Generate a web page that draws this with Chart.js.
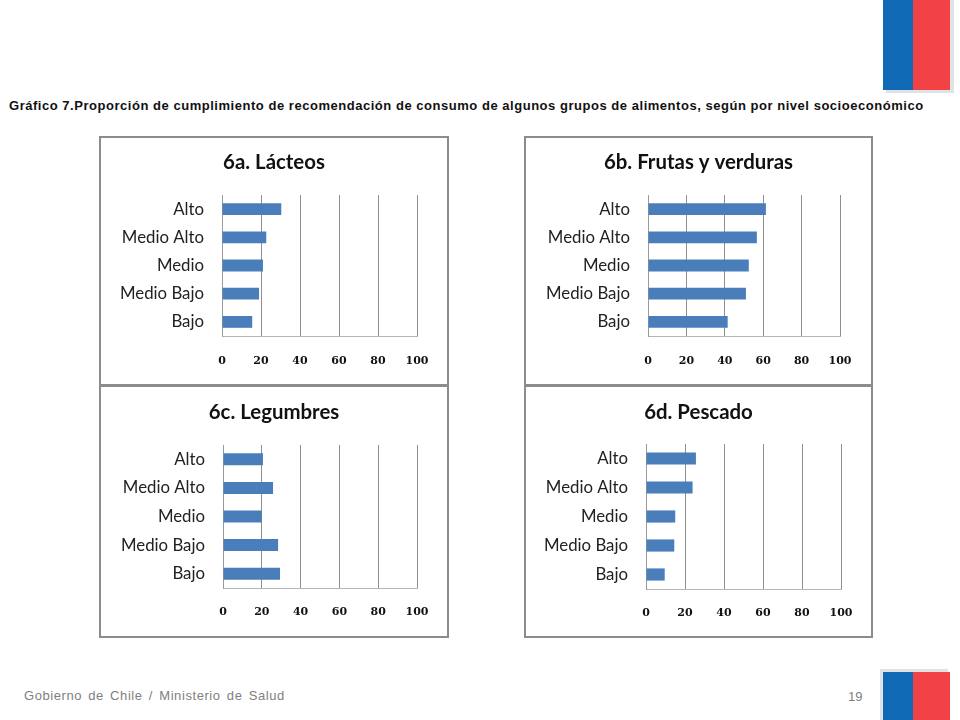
<!DOCTYPE html>
<html lang="es">
<head>
<meta charset="utf-8">
<title>Gráfico 7</title>
<script src="https://cdn.jsdelivr.net/npm/chart.js@4"></script>
<style>
  html, body { margin: 0; padding: 0; background: #fff; width: 960px; height: 720px; overflow: hidden; }
  body { position: relative; font-family: "Liberation Sans", Arial, sans-serif; }
  .abs { position: absolute; }
  .panel { position: absolute; box-sizing: border-box; border: 2px solid #8c8c8c; background: #fff; }
  .panel canvas { position: absolute; left: -2px; top: -2px; }
  #heading { left: 9px; top: 98px; font-size: 13px; letter-spacing: 0.53px; font-weight: bold; color: #111; white-space: nowrap; }
  #footer { left: 24px; top: 688px; font-size: 13px; color: #808080; word-spacing: 2px; letter-spacing: 0.58px; white-space: nowrap; }
  #pageNum { left: 848px; top: 689px; font-size: 13px; color: #808080; }
</style>
</head>
<body>
<!-- banderas -->
<div class="abs" style="left:886px;top:0;width:68px;height:93px;background:#dfe3e6"></div>
<div class="abs" style="left:883px;top:0;width:30px;height:90px;background:#0f69b4"></div>
<div class="abs" style="left:913px;top:0;width:37px;height:90px;background:#f34246"></div>
<div class="abs" style="left:880px;top:669px;width:68px;height:51px;background:#dfe3e6"></div>
<div class="abs" style="left:883px;top:672px;width:30px;height:48px;background:#0f69b4"></div>
<div class="abs" style="left:913px;top:672px;width:37px;height:48px;background:#f34246"></div>

<div id="heading" class="abs">Gráfico 7.Proporción de cumplimiento de recomendación de consumo de algunos grupos de alimentos, según por nivel socioeconómico</div>

<div class="panel" style="left:99px;top:136px;width:350px;height:250px"><canvas id="chartA"></canvas></div>
<div class="panel" style="left:524px;top:136px;width:349px;height:250px"><canvas id="chartB"></canvas></div>
<div class="panel" style="left:99px;top:385px;width:350px;height:253px"><canvas id="chartC"></canvas></div>
<div class="panel" style="left:524px;top:385px;width:349px;height:253px"><canvas id="chartD"></canvas></div>

<div id="footer" class="abs">Gobierno de Chile / Ministerio de Salud</div>
<div id="pageNum" class="abs">19</div>

<script>
// Datos
const categories = ["Alto", "Medio Alto", "Medio", "Medio Bajo", "Bajo"];
const xTicks = [0, 20, 40, 60, 80, 100];
const lacteos = [30.4, 22.7, 21, 19, 15.5];
const frutas = [61.4, 56.7, 52.5, 51, 41.5];
const legumbres = [20.6, 25.8, 20, 28.4, 29.4];
const pescado = [25.6, 23.9, 15, 14.5, 9.6];

const titleSize = 20.4;

// Crea un gráfico; box = tamaño del canvas, plot = márgenes del área de trazado
function makeChart(id, title, values, box, plot) {
  const canvas = document.getElementById(id);
  canvas.style.width = box.w + "px";
  canvas.style.height = box.h + "px";
  canvas.width = box.w;
  canvas.height = box.h;

  return new Chart(canvas.getContext("2d"), {
    type: "bar",
    data: {
      labels: categories,
      datasets: [{
        data: values,
        backgroundColor: "#4a7ebb",
        barPercentage: 0.42,
        categoryPercentage: 1,
      }],
    },
    options: {
      indexAxis: "y",
      responsive: false,
      animation: false,
      layout: { padding: 0 },
      plugins: {
        legend: { display: false },
        tooltip: { enabled: false },
        title: {
          display: true,
          text: title,
          color: "#111",
          font: { family: "Lato", size: titleSize, weight: "bold", lineHeight: 1.2 },
          padding: { top: plot.titleTop, bottom: plot.top - plot.titleTop - titleSize * 1.2 },
        },
      },
      scales: {
        x: {
          min: 0,
          max: 100,
          afterBuildTicks: (axis) => { axis.ticks = xTicks.map((v) => ({ value: v })); },
          // el margen derecho va en la escala para que el título quede centrado en el panel
          afterFit: (axis) => { axis.height = plot.bottom; axis.paddingRight = plot.right; },
          grid: { color: "#8f8f8f", lineWidth: 1, drawTicks: false },
          border: { color: "#b5b5b5" },
          ticks: {
            padding: plot.tickGap,
            maxRotation: 0,
            color: "#111",
            font: { family: "DejaVu Serif", size: 11, weight: "bold" },
          },
        },
        y: {
          afterFit: (axis) => { axis.width = plot.left; },
          grid: { display: false, drawTicks: false },
          border: { color: "#9a9a9a" },
          ticks: {
            padding: 18,
            color: "#222",
            font: { family: "Lato", size: 16.8 },
          },
        },
      },
    },
  });
}

makeChart("chartA", "6a. Lácteos", lacteos, { w: 350, h: 250 },
  { left: 123, right: 32, top: 59, bottom: 50, titleTop: 14, tickGap: 19 });
makeChart("chartB", "6b. Frutas y verduras", frutas, { w: 349, h: 250 },
  { left: 124, right: 33, top: 59, bottom: 50, titleTop: 14, tickGap: 19 });
makeChart("chartC", "6c. Legumbres", legumbres, { w: 350, h: 253 },
  { left: 124, right: 32, top: 60, bottom: 50, titleTop: 15, tickGap: 18 });
makeChart("chartD", "6d. Pescado", pescado, { w: 349, h: 253 },
  { left: 122, right: 32, top: 59, bottom: 49, titleTop: 15, tickGap: 18 });
</script>
</body>
</html>
